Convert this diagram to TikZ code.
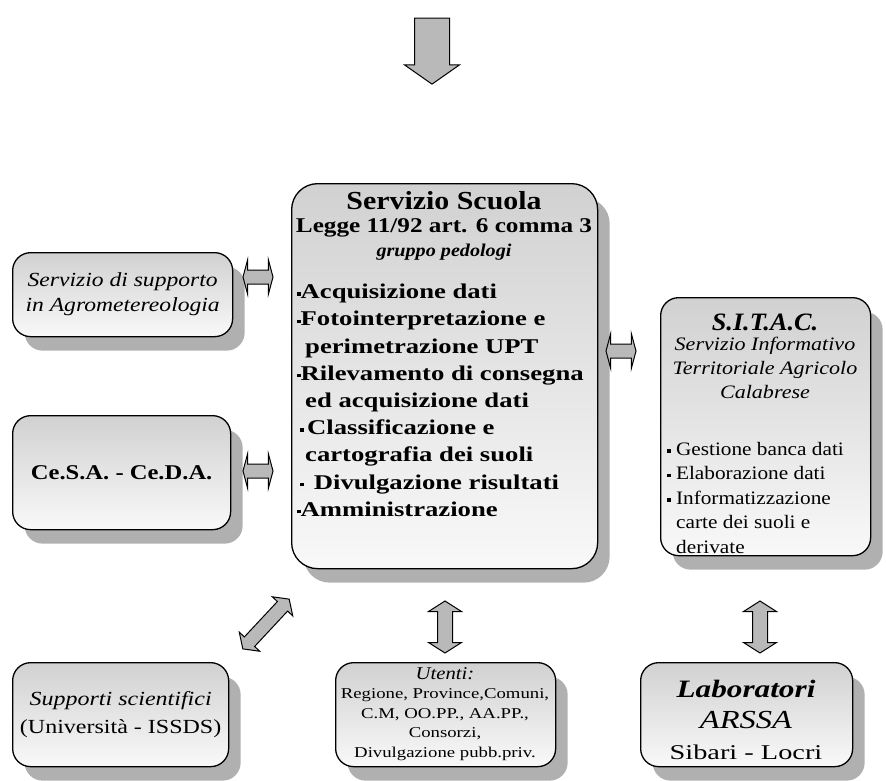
\documentclass[tikz,border=0pt]{standalone}
\usepackage{fontspec}
\setmainfont{Liberation Serif}
\usetikzlibrary{shapes.arrows,shadows,calc}
\newcommand\sqb{\raisebox{0.3ex}{\rule{3.5pt}{3.5pt}}}
\newcommand\fsz[3]{\fontsize{#1}{#2}\selectfont\addfontfeatures{FakeStretch=#3}}
\tikzset{
  box/.style={draw=black, line width=1.3pt, rounded corners=18pt,
    top color=gray!36, bottom color=gray!5, inner sep=0pt,
    drop shadow={shadow xshift=12pt, shadow yshift=-14pt, fill=gray!62, opacity=1}},
  blk/.style={draw=black, line width=1pt, fill=gray!55, inner xsep=0pt},
  harr/.style={blk, double arrow, minimum height=30pt, inner ysep=6.5pt,
    double arrow head extend=10pt, double arrow tip angle=150},
  varr/.style={blk, double arrow, minimum height=52pt, inner ysep=7pt,
    double arrow head extend=9pt, double arrow tip angle=115, rotate=90},
  txt/.style={inner sep=0pt, align=center},
}
\begin{document}
\begin{tikzpicture}[x=1pt,y=-1pt]
\useasboundingbox (0,0) rectangle (886,780);
% boxes
\node[box, minimum width=306pt, minimum height=385pt, anchor=north west, rounded corners=26pt] (scuola) at (291,183) {};
\node[box, minimum width=220pt, minimum height=84pt, anchor=north west] (agro) at (12,252) {};
\node[box, minimum width=218pt, minimum height=114pt, anchor=north west] (cesa) at (12,415) {};
\node[box, minimum width=210pt, minimum height=258pt, anchor=north west] (sitac) at (660,297) {};
\node[box, minimum width=216pt, minimum height=104pt, anchor=north west] (supp) at (12,662) {};
\node[box, minimum width=220pt, minimum height=104pt, anchor=north west] (utenti) at (335,662) {};
\node[box, minimum width=212pt, minimum height=104pt, anchor=north west] (lab) at (640,662) {};
% block arrows
\node[blk, single arrow, minimum height=66pt, inner ysep=17pt,
  single arrow head extend=10pt, single arrow tip angle=110, rotate=-90] (top) at (432,45) {};
\node[harr] (a1) at (258,277) {};
\node[harr] (a2) at (258,471) {};
\node[harr] (a3) at (621,351) {};
\node[varr] (a4) at (445,627) {};
\node[varr] (a5) at (760,627) {};
\node[blk, double arrow, minimum height=68pt, inner ysep=6.5pt,
  double arrow head extend=7pt, double arrow tip angle=110, rotate=47] (a6) at (266,624) {};
% center box text
\node[txt, font=\bfseries\fsz{26}{28}{1.15}] (t1) at (444,201) {Servizio Scuola};
\node[txt, font=\bfseries\fsz{21}{23}{1.2}] (t2) at (444,228) {Legge 11/92 art. 6 comma 3};
\node[txt, font=\bfseries\itshape\fsz{18}{20}{1.12}] (t3) at (444,252) {gruppo pedologi};
\node[txt, anchor=north west, align=left, font=\bfseries\fsz{21}{27.2}{1.27}] (t4) at (297,284)
 {\sqb Acquisizione dati\\
  \sqb Fotointerpretazione e\\
  \hspace*{8pt}perimetrazione UPT\\
  \sqb Rilevamento di consegna\\
  \hspace*{8pt}ed acquisizione dati\\
  \hspace*{3pt}\sqb\,Classificazione e\\
  \hspace*{8pt}cartografia dei suoli\\
  \hspace*{3pt}\sqb\, Divulgazione risultati\\
  \sqb Amministrazione};
% left boxes text
\node[txt, font=\itshape\fsz{20}{25}{1.18}] (t5) at (agro) {Servizio di supporto\\in Agrometereologia};
\node[txt, font=\bfseries\fsz{21}{22}{1.17}] (t6) at (cesa) {Ce.S.A. - Ce.D.A.};
% sitac text
\node[txt, font=\bfseries\itshape\fsz{25}{27}{1.05}] (t7) at (765,322) {S.I.T.A.C.};
\node[txt, font=\itshape\fsz{19}{24}{1.16}, anchor=north] (t8) at (765,337) {Servizio Informativo\\Territoriale Agricolo\\Calabrese};
\node[txt, anchor=north west, align=left, font=\fsz{19}{24.5}{1.12}] (t9) at (667,442)
 {\sqb\ Gestione banca dati\\
  \sqb\ Elaborazione dati\\
  \sqb\ Informatizzazione\\
  \hspace*{9pt}carte dei suoli e\\
  \hspace*{9pt}derivate};
% bottom text
\node[txt, font=\fsz{20}{28}{1.2}] (t10) at (supp) {\textit{Supporti scientifici}\\(Università - ISSDS)};
\node[txt, font=\fsz{15}{19.5}{1.25}] (t11) at (445,714) {{\itshape\fsz{18}{19.5}{1.15}Utenti:}\\Regione, Province,Comuni,\\C.M, OO.PP., AA.PP.,\\Consorzi,\\Divulgazione pubb.priv.};
\node[txt, font=\fsz{21}{31}{1.35}] (t12) at (746,720) {{\bfseries\itshape\fsz{25}{31}{1.25}Laboratori}\\{\itshape\fsz{26}{31}{1.25}ARSSA}\\Sibari - Locri};
\end{tikzpicture}
\end{document}
